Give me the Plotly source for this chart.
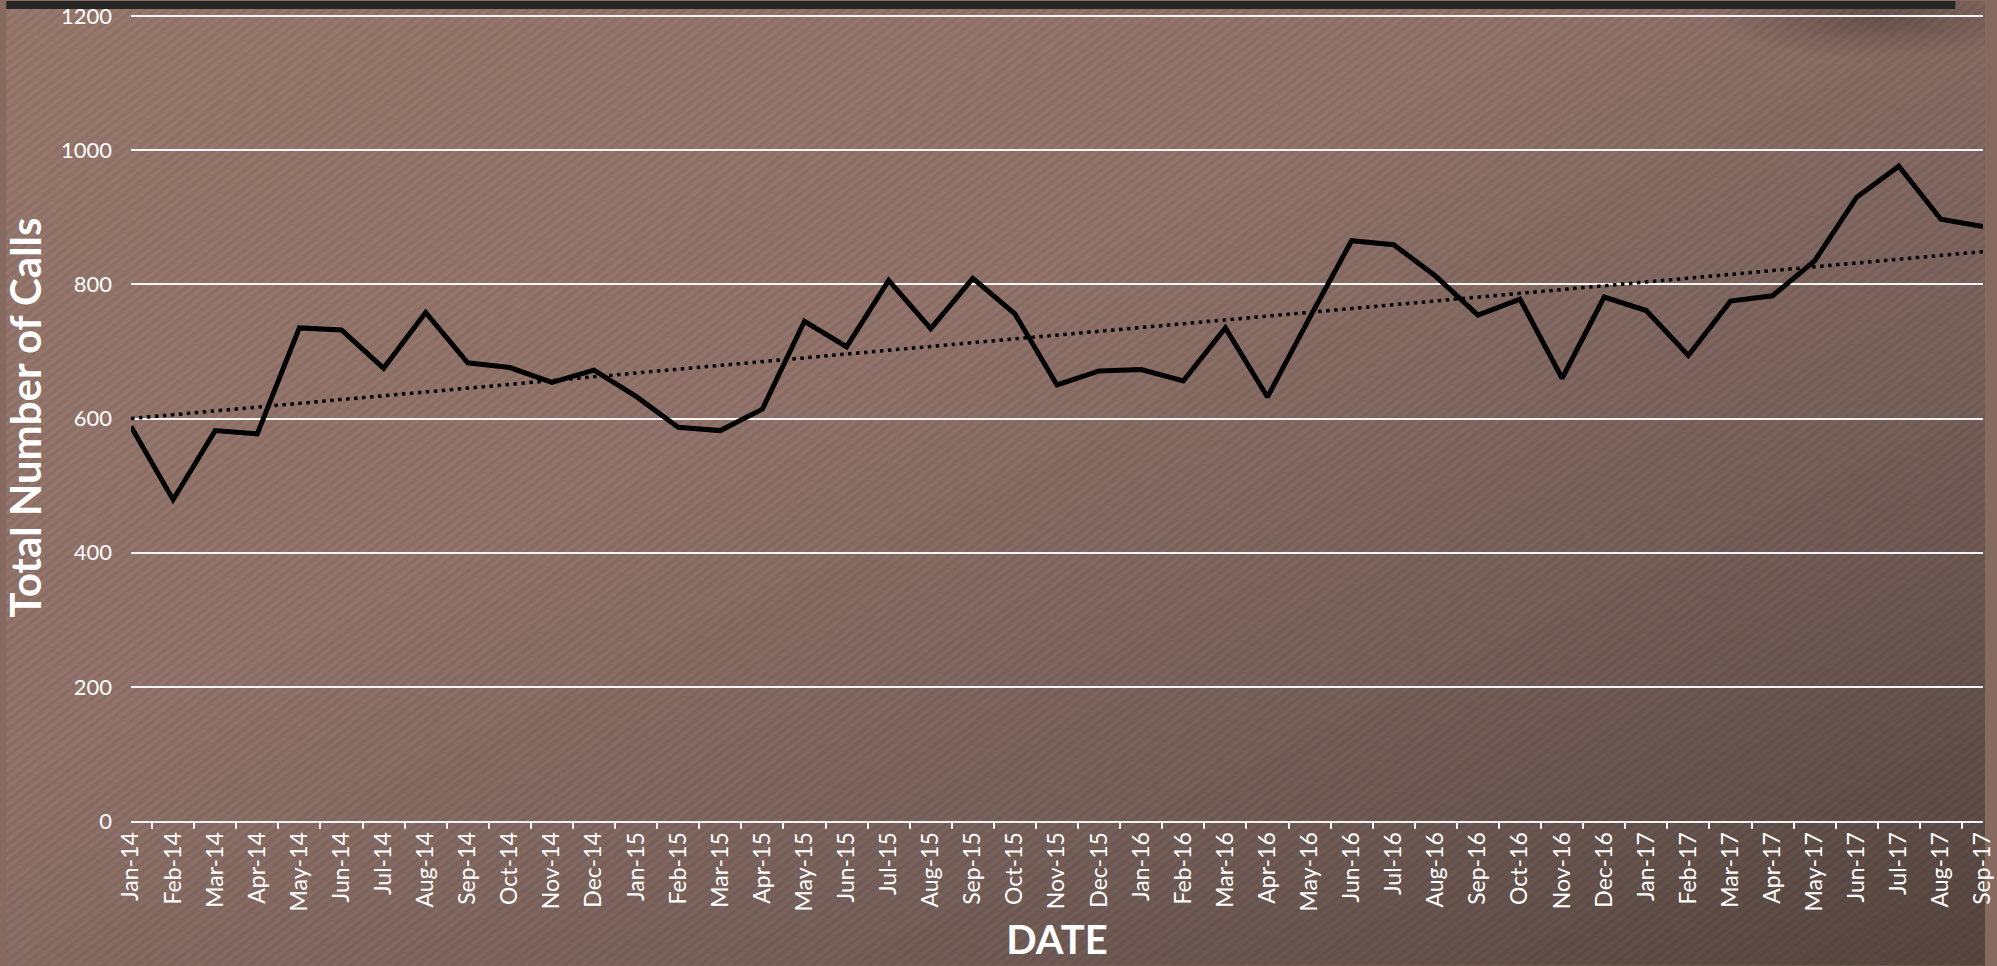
import base64
import numpy as np
import plotly.graph_objects as go

# ---- data ----
months = ["Jan", "Feb", "Mar", "Apr", "May", "Jun", "Jul", "Aug", "Sep", "Oct", "Nov", "Dec"]
dates = ([f"{m}-14" for m in months] + [f"{m}-15" for m in months] +
         [f"{m}-16" for m in months] + [f"{m}-17" for m in months[:9]])
calls = [588, 479, 582, 577, 735, 732, 675, 758, 683, 676, 654, 672,
         633, 587, 582, 614, 745, 707, 806, 734, 809, 756, 650, 671,
         673, 656, 735, 632, 750, 865, 859, 812, 754, 778, 660, 781,
         761, 694, 775, 783, 835, 930, 976, 897, 886]
y_ticks = [0, 200, 400, 600, 800, 1000, 1200]

# linear trendline fitted to the series (as in the original chart)
idx = np.arange(len(calls))
slope, intercept = np.polyfit(idx, calls, 1)
trend = slope * idx + intercept

# ---- figure geometry ----
W, H = 1997, 966
L, R, T, B = 126, 2, 13, 145
PW, PH = W - L - R, H - T - B

# background: diagonal brown gradient with fine stripes, top bar and shadow
svg = f"""<svg xmlns='http://www.w3.org/2000/svg' width='{W}' height='{H}'>
<defs>
<linearGradient id='g' x1='0' y1='0' x2='1' y2='1'>
<stop offset='0' stop-color='#98786d'/>
<stop offset='0.40' stop-color='#92746a'/>
<stop offset='0.70' stop-color='#76605a'/>
<stop offset='1' stop-color='#56463f'/>
</linearGradient>
<pattern id='p' width='7' height='7' patternUnits='userSpaceOnUse' patternTransform='rotate(-38)'>
<rect width='7' height='3.5' fill='#000' fill-opacity='0.06'/>
</pattern>
<radialGradient id='s' cx='0.5' cy='0.5' r='0.5'>
<stop offset='0' stop-color='#000' stop-opacity='0.25'/>
<stop offset='1' stop-color='#000' stop-opacity='0'/>
</radialGradient>
</defs>
<rect width='{W}' height='{H}' fill='url(#g)'/>
<rect width='{W}' height='{H}' fill='url(#p)'/>
<ellipse cx='1890' cy='16' rx='170' ry='42' fill='url(#s)'/>
<rect x='0' y='0' width='1967' height='8' fill='#262626'/>
</svg>"""
bg_src = "data:image/svg+xml;base64," + base64.b64encode(svg.encode()).decode()

fig = go.Figure()
fig.add_trace(go.Scatter(
    x=dates, y=calls, mode="lines",
    line=dict(color="#000000", width=5), name="Total Calls",
    hoverinfo="x+y",
))
fig.add_trace(go.Scatter(
    x=dates, y=trend, mode="lines",
    line=dict(color="#000000", width=3.5, dash="3.5px,4.5px"), name="Linear trend",
    hoverinfo="skip",
))

fig.update_layout(
    width=W, height=H,
    margin=dict(l=L, r=R, t=T, b=B),
    paper_bgcolor="#86695f",
    plot_bgcolor="rgba(0,0,0,0)",
    showlegend=False,
    images=[dict(
        source=bg_src, xref="paper", yref="paper",
        x=-L / PW, y=1 + T / PH, sizex=W / PW, sizey=H / PH,
        xanchor="left", yanchor="top", sizing="stretch", layer="below",
    )],
    xaxis=dict(
        type="category",
        tickangle=-90,
        tickson="boundaries",
        ticks="outside", ticklen=6, tickwidth=2, tickcolor="#f2f2f2",
        showline=True, linecolor="#f2f2f2", linewidth=2,
        showgrid=False,
        ticklabeloverflow="allow",
        tickfont=dict(family="Lato", size=23, color="#ffffff"),
        title=dict(text="<b>DATE</b>", standoff=16,
                   font=dict(family="Lato", size=40, color="#ffffff")),
    ),
    yaxis=dict(
        range=[0, 1203],
        tickvals=y_ticks,
        showgrid=True, gridcolor="#f5f5f5", gridwidth=2,
        zeroline=False, showline=False, ticks="",
        ticklabelstandoff=18,
        tickfont=dict(family="Lato", size=22, color="#ffffff"),
        title=dict(text="<b>Total Number of Calls</b>", standoff=30,
                   font=dict(family="Lato", size=42, color="#ffffff")),
    ),
)

fig.write_html(
    "out.html",
    config={"displayModeBar": False},
    post_script="document.body.style.margin='0';document.body.style.overflow='hidden';",
)
